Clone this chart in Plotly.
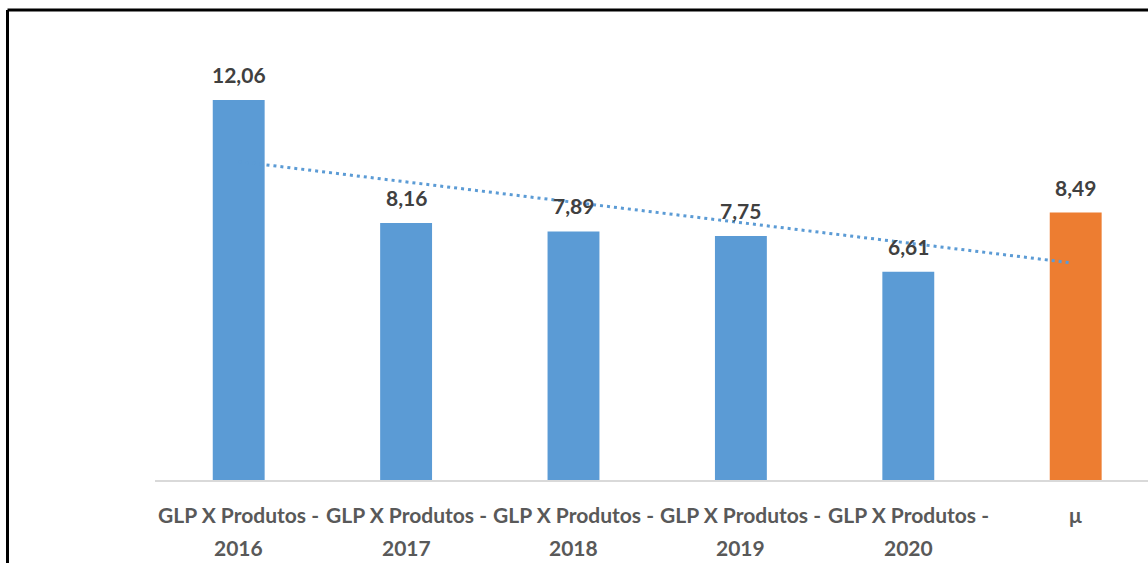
import numpy as np
import plotly.graph_objects as go

# Category labels (two lines each) and values
label_top = ["GLP X Produtos -", "GLP X Produtos -", "GLP X Produtos -",
             "GLP X Produtos -", "GLP X Produtos -", "μ"]
label_bottom = ["2016", "2017", "2018", "2019", "2020", ""]
values = [12.06, 8.16, 7.89, 7.75, 6.61, 8.49]
value_text = ["12,06", "8,16", "7,89", "7,75", "6,61", "8,49"]

BLUE = "#5B9BD5"
ORANGE = "#ED7D31"
colors = [BLUE] * (len(values) - 1) + [ORANGE]

W, H = 1148, 563
ML, MB = 155, 83
PW, PH = W - ML, H - MB
PX_PER_UNIT = 31.5
CAT_PX = 167.4

x = list(range(len(values)))

fig = go.Figure()
fig.add_trace(go.Bar(
    x=x, y=values, width=0.31,
    marker=dict(color=colors, line=dict(width=0)),
    hoverinfo="skip", showlegend=False,
))

# Linear trendline fitted over all bars
slope, intercept = np.polyfit(x, values, 1)
tx = [x[0], x[-1] - 0.03]
ty = [slope * v + intercept for v in tx]
fig.add_trace(go.Scatter(
    x=tx, y=ty, mode="lines",
    line=dict(color=BLUE, width=3, dash="3px,4px"),
    hoverinfo="skip", showlegend=False,
))

font_family = "Lato, Calibri, sans-serif"
annotations = []
for xi, v, t in zip(x, values, value_text):
    annotations.append(dict(
        x=xi, y=v, xref="x", yref="y", text=t, showarrow=False,
        yanchor="bottom", yshift=11,
        font=dict(family=font_family, size=21, color="#404040", weight=700),
    ))
for xi, a, b in zip(x, label_top, label_bottom):
    annotations.append(dict(
        x=xi, y=0, xref="x", yref="paper", text=a, showarrow=False,
        yanchor="middle", yshift=-34,
        font=dict(family=font_family, size=21, color="#595959", weight=700),
    ))
    if b:
        annotations.append(dict(
            x=xi, y=0, xref="x", yref="paper", text=b, showarrow=False,
            yanchor="middle", yshift=-67,
            font=dict(family=font_family, size=21, color="#595959", weight=700),
        ))

# Outer frame (left and top edges)
fx = (7.5 - ML) / PW
fy = (PH - 10) / PH
shapes = [
    dict(type="line", xref="paper", yref="paper", x0=fx, x1=1.05, y0=fy, y1=fy,
         line=dict(color="black", width=3)),
    dict(type="line", xref="paper", yref="paper", x0=fx, x1=fx, y0=fy, y1=-0.3,
         line=dict(color="black", width=3)),
]

x_right = -0.5 + PW / CAT_PX
fig.update_layout(
    width=W, height=H,
    margin=dict(l=ML, r=0, t=0, b=MB, pad=0),
    plot_bgcolor="white", paper_bgcolor="white",
    xaxis=dict(range=[-0.5, x_right], showticklabels=False, showgrid=False,
               zeroline=False, showline=True, linecolor="#D9D9D9", linewidth=2,
               ticks=""),
    yaxis=dict(range=[0, PH / PX_PER_UNIT], visible=False),
    annotations=annotations,
    shapes=shapes,
)

fig.write_html("out.html")
